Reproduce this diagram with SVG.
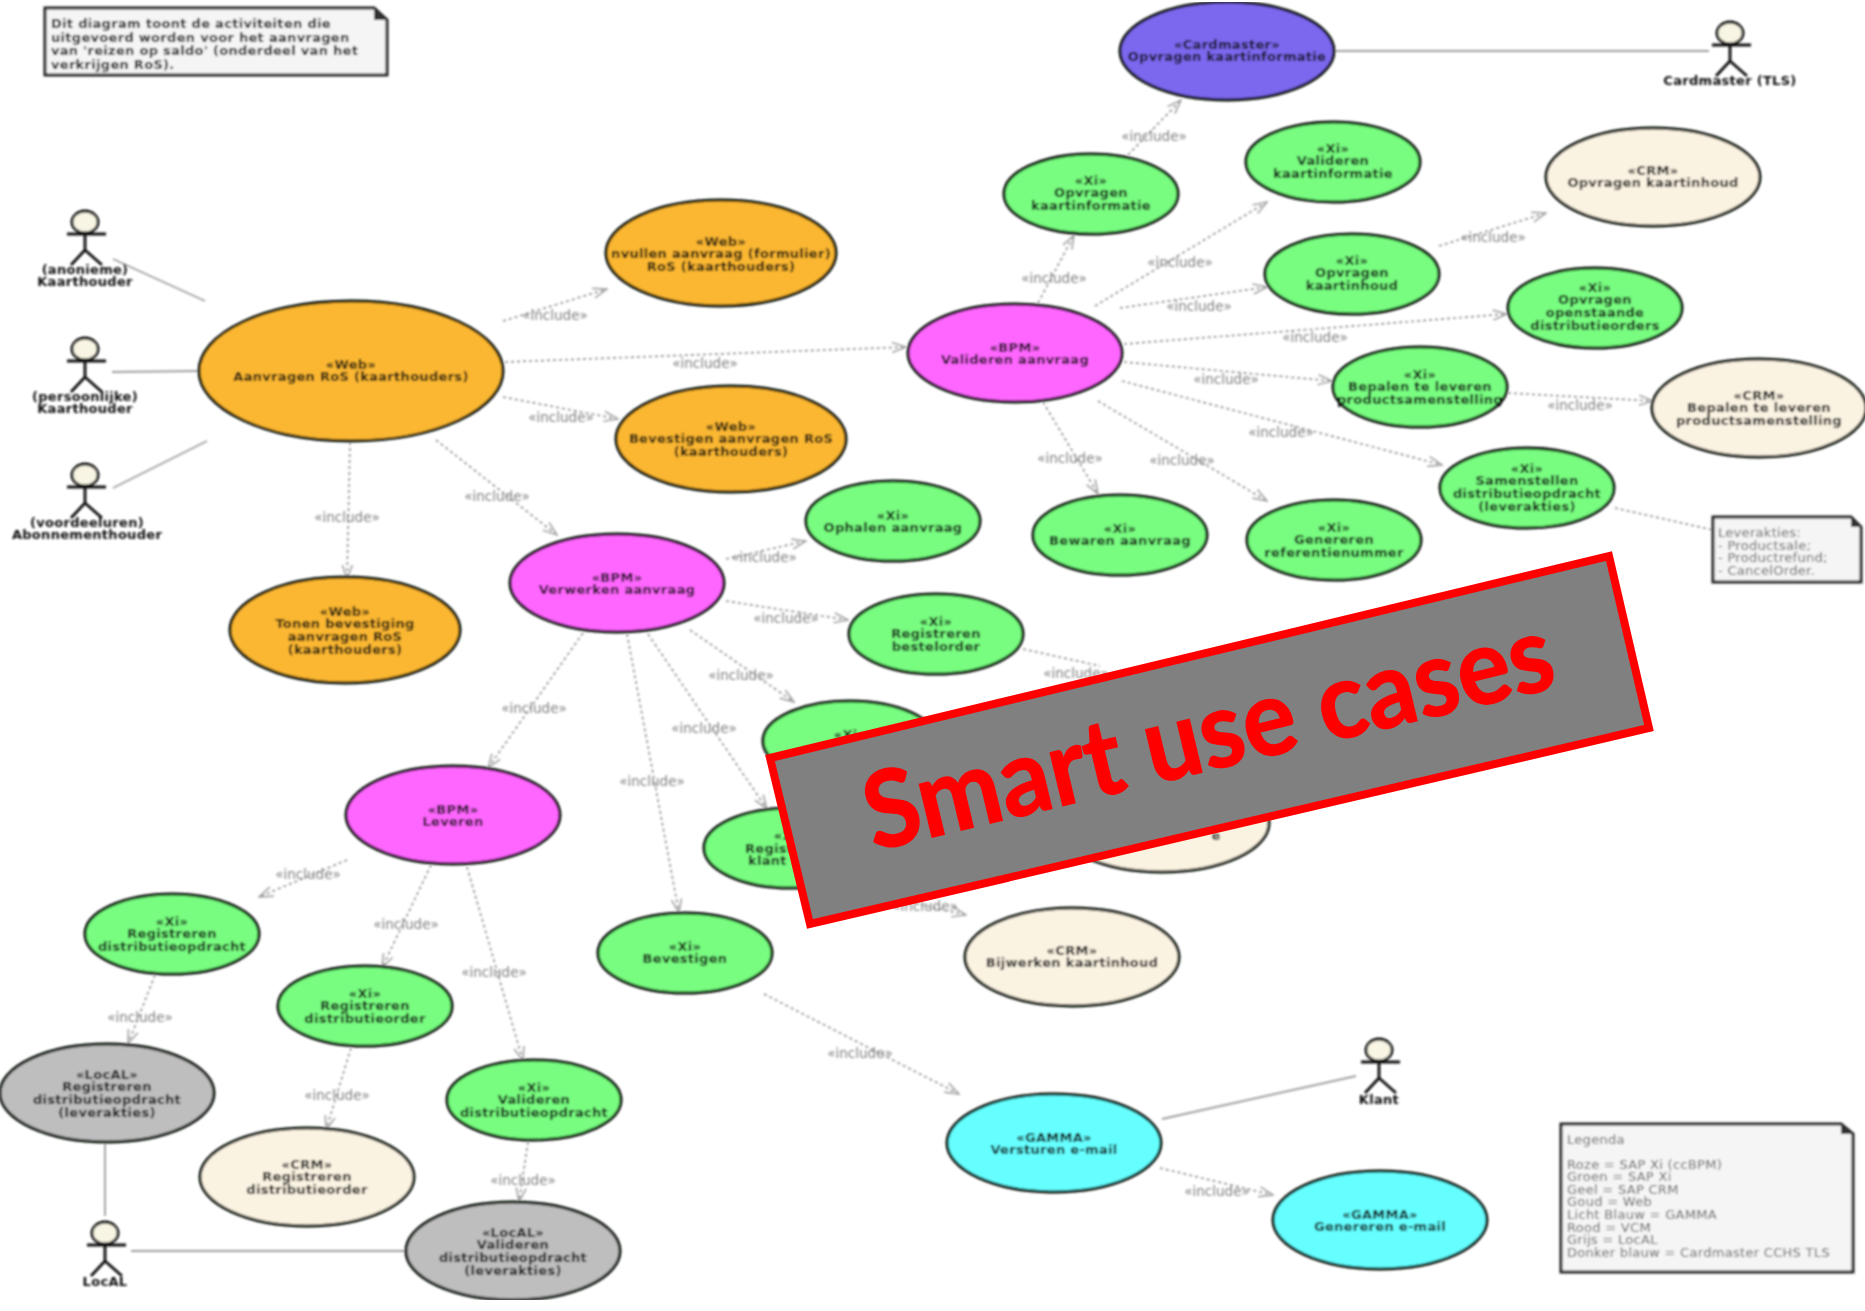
<svg xmlns="http://www.w3.org/2000/svg" width="1865" height="1311" viewBox="0 0 1865 1311">
<style>
.web{fill:#fbb731}.xi{fill:#78fd80}.bpm{fill:#ff66ff}.crm{fill:#fbf3e2}.gamma{fill:#66ffff}.local{fill:#bebebe}.card{fill:#7b68ee}
ellipse.u{stroke:#0c140c;stroke-width:3}
.t{font:bold 13px "DejaVu Sans",sans-serif;letter-spacing:.3px;fill:#111;text-anchor:middle;transform:translateY(-.5px)}
.n{font:bold 13px "DejaVu Sans",sans-serif;letter-spacing:.3px;fill:#111}
.r{font:13px "DejaVu Sans",sans-serif;letter-spacing:.3px;fill:#5a5a5a}
.i{font:13.5px "DejaVu Sans",sans-serif;fill:#808080;text-anchor:middle}
.d{fill:none;stroke:#969696;stroke-width:1.7;stroke-dasharray:3 3;marker-end:url(#open)}
.dn{fill:none;stroke:#969696;stroke-width:1.7;stroke-dasharray:3 3}
.s{fill:none;stroke:#a0a0a0;stroke-width:1.9}
.a{fill:none;stroke:#111;stroke-width:2.8}
.h{fill:#f8f5e4;stroke:#111;stroke-width:2.8}
.note{fill:#f5f5f5;stroke:#222;stroke-width:3}
</style>
<defs>
<marker id="open" viewBox="0 0 16 12" refX="15" refY="6" markerWidth="16" markerHeight="12" markerUnits="userSpaceOnUse" orient="auto"><path d="M1 1L15 6L1 11" fill="none" stroke="#a8a8a8" stroke-width="1.7"/></marker>
<filter id="soft" x="0" y="0" width="100%" height="100%"><feGaussianBlur stdDeviation="0.8"/></filter>
</defs>
<rect width="1865" height="1311" fill="#fff"/>
<g id="diagram" filter="url(#soft)">
<g id="connectors">
<path class="s" d="M113 259L205 301M112 372L198 371M113 488L207 441M1335 51L1709 51M1162 1119L1356 1076M131 1251L407 1251M105 1142L105 1216"/>
<path class="d" d="M503 321L607 289"/><path class="d" d="M505 362L906 347"/><path class="d" d="M503 397L618 419"/><path class="d" d="M350 442L347 579"/><path class="d" d="M436 440L557 535"/>
<path class="d" d="M1038 303L1074 235"/><path class="d" d="M1128 155L1181 100"/><path class="d" d="M1095 306L1267 202"/><path class="d" d="M1120 308L1267 287"/><path class="d" d="M1439 246L1546 213"/><path class="d" d="M1124 344L1507 314"/><path class="d" d="M1124 362L1332 381"/><path class="d" d="M1508 393L1653 401"/><path class="d" d="M1122 381L1442 465"/><path class="d" d="M1098 401L1267 501"/><path class="d" d="M1043 402L1098 494"/>
<path class="dn" d="M1615 508L1713 530"/>
<path class="d" d="M726 559L806 541"/><path class="d" d="M726 601L848 620"/><path class="dn" d="M1023 649L1100 666"/><path class="d" d="M690 630L794 702"/><path class="d" d="M648 634L767 809"/><path class="d" d="M627 634L679 913"/><path class="d" d="M583 633L488 768"/>
<path class="d" d="M892 898L966 915"/><path class="d" d="M347 860L259 897"/><path class="d" d="M431 865L382 968"/><path class="d" d="M467 867L523 1061"/><path class="d" d="M155 975L128 1044"/><path class="d" d="M351 1048L326 1130"/><path class="d" d="M528 1142L519 1202"/><path class="d" d="M764 994L959 1094"/><path class="d" d="M1160 1168L1273 1195"/>
<g id="connector-labels">
<text class="i" x="555" y="320">«include»</text><text class="i" x="705" y="368">«include»</text><text class="i" x="561" y="422">«include»</text><text class="i" x="347" y="522">«include»</text><text class="i" x="497" y="501">«include»</text>
<text class="i" x="1054" y="283">«include»</text><text class="i" x="1154" y="141">«include»</text><text class="i" x="1180" y="267">«include»</text><text class="i" x="1199" y="311">«include»</text><text class="i" x="1493" y="242">«include»</text><text class="i" x="1315" y="342">«include»</text><text class="i" x="1226" y="384">«include»</text><text class="i" x="1580" y="410">«include»</text><text class="i" x="1281" y="437">«include»</text><text class="i" x="1182" y="465">«include»</text><text class="i" x="1070" y="463">«include»</text>
<text class="i" x="764" y="562">«include»</text><text class="i" x="786" y="623">«include»</text><text class="i" x="1076" y="678">«include»</text><text class="i" x="741" y="680">«include»</text><text class="i" x="704" y="733">«include»</text><text class="i" x="652" y="786">«include»</text><text class="i" x="534" y="713">«include»</text><text class="i" x="925" y="911">«include»</text>
<text class="i" x="308" y="879">«include»</text><text class="i" x="406" y="929">«include»</text><text class="i" x="494" y="977">«include»</text><text class="i" x="140" y="1022">«include»</text><text class="i" x="337" y="1100">«include»</text><text class="i" x="523" y="1185">«include»</text><text class="i" x="860" y="1058">«include»</text><text class="i" x="1217" y="1196">«include»</text>
</g>
</g>

<g id="note-intro"><path class="note" d="M45 8H374L387 20V75H45Z"/><path d="M374 8L387 20H374Z" fill="#333"/><text class="n" y="28"><tspan x="51">Dit diagram toont de activiteiten die</tspan><tspan x="51" dy="13.7">uitgevoerd worden voor het aanvragen</tspan><tspan x="51" dy="13.7">van 'reizen op saldo' (onderdeel van het</tspan><tspan x="51" dy="13.7">verkrijgen RoS).</tspan></text></g>
<g id="note-leverakties"><path class="note" d="M1713 517H1851L1861 527V582H1713Z"/><path d="M1851 517L1861 527H1851Z" fill="#333"/><text class="r" y="537"><tspan x="1718">Leverakties:</tspan><tspan x="1718" dy="12.6">- Productsale;</tspan><tspan x="1718" dy="12.6">- Productrefund;</tspan><tspan x="1718" dy="12.6">- CancelOrder.</tspan></text></g>
<g id="note-legenda"><path class="note" d="M1561 1124H1841L1853 1134V1272H1561Z"/><path d="M1841 1124L1853 1134H1841Z" fill="#333"/><text class="r" y="1144"><tspan x="1567">Legenda</tspan><tspan x="1567" dy="24.6">Roze = SAP Xi (ccBPM)</tspan><tspan x="1567" dy="12.6">Groen = SAP Xi</tspan><tspan x="1567" dy="12.6">Geel = SAP CRM</tspan><tspan x="1567" dy="12.6">Goud = Web</tspan><tspan x="1567" dy="12.6">Licht Blauw = GAMMA</tspan><tspan x="1567" dy="12.6">Rood = VCM</tspan><tspan x="1567" dy="12.6">Grijs = LocAL</tspan><tspan x="1567" dy="12.6">Donker blauw = Cardmaster CCHS TLS</tspan></text></g>

<g id="actor-anoniem"><ellipse class="h" cx="85" cy="222" rx="13" ry="11"/><path class="a" d="M85 233V250M67 234H106M85 250L71 265M85 250L102 265"/><text class="t" y="274"><tspan x="85">(anonieme)</tspan><tspan x="85" dy="12.7">Kaarthouder</tspan></text></g>
<g id="actor-persoonlijk"><ellipse class="h" cx="85" cy="349" rx="13" ry="11"/><path class="a" d="M85 360V377M67 361H106M85 377L71 392M85 377L102 392"/><text class="t" y="401"><tspan x="85">(persoonlijke)</tspan><tspan x="85" dy="12.7">Kaarthouder</tspan></text></g>
<g id="actor-voordeeluren"><ellipse class="h" cx="85" cy="475" rx="13" ry="11"/><path class="a" d="M85 486V503M67 487H106M85 503L71 518M85 503L102 518"/><text class="t" y="527"><tspan x="87">(voordeeluren)</tspan><tspan x="87" dy="12.7">Abonnementhouder</tspan></text></g>
<g id="actor-cardmaster"><ellipse class="h" cx="1730" cy="33" rx="13" ry="11"/><path class="a" d="M1730 44V61M1712 45H1751M1730 61L1716 76M1730 61L1747 76"/><text class="t" x="1730" y="85">Cardmaster (TLS)</text></g>
<g id="actor-klant"><ellipse class="h" cx="1379" cy="1050" rx="13" ry="11"/><path class="a" d="M1379 1061V1078M1361 1062H1400M1379 1078L1365 1093M1379 1078L1396 1093"/><text class="t" x="1379" y="1104">Klant</text></g>
<g id="actor-local"><ellipse class="h" cx="105" cy="1233" rx="13" ry="11"/><path class="a" d="M105 1244V1261M87 1245H126M105 1261L91 1276M105 1261L122 1276"/><text class="t" x="105" y="1286">LocAL</text></g>

<g id="uc-cardmaster"><ellipse class="u card" cx="1227" cy="51" rx="107" ry="49"/><text class="t" y="49"><tspan x="1227">«Cardmaster»</tspan><tspan x="1227" dy="12.7">Opvragen kaartinformatie</tspan></text></g>
<g id="uc-opvragen-info"><ellipse class="u xi" cx="1091" cy="194" rx="87" ry="40"/><text class="t" y="185"><tspan x="1091">«Xi»</tspan><tspan x="1091" dy="12.7">Opvragen</tspan><tspan x="1091" dy="12.7">kaartinformatie</tspan></text></g>
<g id="uc-valideren-info"><ellipse class="u xi" cx="1333" cy="162" rx="87" ry="40"/><text class="t" y="153"><tspan x="1333">«Xi»</tspan><tspan x="1333" dy="12.7">Valideren</tspan><tspan x="1333" dy="12.7">kaartinformatie</tspan></text></g>
<g id="uc-crm-opvragen"><ellipse class="u crm" cx="1653" cy="177" rx="107" ry="49"/><text class="t" y="175"><tspan x="1653">«CRM»</tspan><tspan x="1653" dy="12.7">Opvragen kaartinhoud</tspan></text></g>
<g id="uc-opvragen-inhoud"><ellipse class="u xi" cx="1352" cy="274" rx="87" ry="40"/><text class="t" y="265"><tspan x="1352">«Xi»</tspan><tspan x="1352" dy="12.7">Opvragen</tspan><tspan x="1352" dy="12.7">kaartinhoud</tspan></text></g>
<g id="uc-openstaande"><ellipse class="u xi" cx="1595" cy="308" rx="87" ry="40"/><text class="t" y="292"><tspan x="1595">«Xi»</tspan><tspan x="1595" dy="12.7">Opvragen</tspan><tspan x="1595" dy="12.7">openstaande</tspan><tspan x="1595" dy="12.7">distributieorders</tspan></text></g>
<g id="uc-valideren"><ellipse class="u bpm" cx="1015" cy="353" rx="107" ry="49"/><text class="t" y="352"><tspan x="1015">«BPM»</tspan><tspan x="1015" dy="12.7">Valideren aanvraag</tspan></text></g>
<g id="uc-bepalen"><ellipse class="u xi" cx="1420" cy="387" rx="87" ry="40"/><text class="t" y="379"><tspan x="1420">«Xi»</tspan><tspan x="1420" dy="12.7">Bepalen te leveren</tspan><tspan x="1420" dy="12.7">productsamenstelling</tspan></text></g>
<g id="uc-crm-bepalen"><ellipse class="u crm" cx="1759" cy="408" rx="107" ry="49"/><text class="t" y="400"><tspan x="1759">«CRM»</tspan><tspan x="1759" dy="12.7">Bepalen te leveren</tspan><tspan x="1759" dy="12.7">productsamenstelling</tspan></text></g>
<g id="uc-samenstellen"><ellipse class="u xi" cx="1527" cy="488" rx="87" ry="40"/><text class="t" y="473"><tspan x="1527">«Xi»</tspan><tspan x="1527" dy="12.7">Samenstellen</tspan><tspan x="1527" dy="12.7">distributieopdracht</tspan><tspan x="1527" dy="12.7">(leverakties)</tspan></text></g>
<g id="uc-bewaren"><ellipse class="u xi" cx="1120" cy="535" rx="87" ry="40"/><text class="t" y="533"><tspan x="1120">«Xi»</tspan><tspan x="1120" dy="12.7">Bewaren aanvraag</tspan></text></g>
<g id="uc-genereren-ref"><ellipse class="u xi" cx="1334" cy="540" rx="87" ry="40"/><text class="t" y="532"><tspan x="1334">«Xi»</tspan><tspan x="1334" dy="12.7">Genereren</tspan><tspan x="1334" dy="12.7">referentienummer</tspan></text></g>
<g id="uc-invullen"><ellipse class="u web" cx="721" cy="253" rx="115" ry="53"/><text class="t" y="246"><tspan x="721">«Web»</tspan><tspan x="721" dy="12.7">nvullen aanvraag (formulier)</tspan><tspan x="721" dy="12.7">RoS (kaarthouders)</tspan></text></g>
<g id="uc-aanvragen"><ellipse class="u web" cx="351" cy="371" rx="152" ry="70"/><text class="t" y="369"><tspan x="351">«Web»</tspan><tspan x="351" dy="12.7">Aanvragen RoS (kaarthouders)</tspan></text></g>
<g id="uc-bevestigen-web"><ellipse class="u web" cx="731" cy="439" rx="115" ry="53"/><text class="t" y="431"><tspan x="731">«Web»</tspan><tspan x="731" dy="12.7">Bevestigen aanvragen RoS</tspan><tspan x="731" dy="12.7">(kaarthouders)</tspan></text></g>
<g id="uc-tonen"><ellipse class="u web" cx="345" cy="630" rx="115" ry="53"/><text class="t" y="616"><tspan x="345">«Web»</tspan><tspan x="345" dy="12.7">Tonen bevestiging</tspan><tspan x="345" dy="12.7">aanvragen RoS</tspan><tspan x="345" dy="12.7">(kaarthouders)</tspan></text></g>
<g id="uc-verwerken"><ellipse class="u bpm" cx="617" cy="583" rx="107" ry="49"/><text class="t" y="582"><tspan x="617">«BPM»</tspan><tspan x="617" dy="12.7">Verwerken aanvraag</tspan></text></g>
<g id="uc-ophalen"><ellipse class="u xi" cx="893" cy="521" rx="87" ry="40"/><text class="t" y="520"><tspan x="893">«Xi»</tspan><tspan x="893" dy="12.7">Ophalen aanvraag</tspan></text></g>
<g id="uc-bestelorder"><ellipse class="u xi" cx="936" cy="634" rx="87" ry="40"/><text class="t" y="626"><tspan x="936">«Xi»</tspan><tspan x="936" dy="12.7">Registreren</tspan><tspan x="936" dy="12.7">bestelorder</tspan></text></g>
<g id="uc-hidden-xi"><ellipse class="u xi" cx="850" cy="741" rx="87" ry="40"/><text class="t" x="850" y="739">«Xi»</text></g>
<g id="uc-registreren-klant"><ellipse class="u xi" cx="791" cy="848" rx="87" ry="40"/><text class="t" x="790" y="840">«Xi»</text><text class="t" style="text-anchor:start" y="853"><tspan x="745">Registreren</tspan><tspan x="748" dy="12.7">klant</tspan></text></g>
<g id="uc-hidden-crm"><ellipse class="u crm" cx="1162" cy="823" rx="107" ry="49"/><text class="t" x="1216" y="840">e</text></g>
<g id="uc-bijwerken"><ellipse class="u crm" cx="1072" cy="957" rx="107" ry="49"/><text class="t" y="955"><tspan x="1072">«CRM»</tspan><tspan x="1072" dy="12.7">Bijwerken kaartinhoud</tspan></text></g>
<g id="uc-bevestigen"><ellipse class="u xi" cx="685" cy="953" rx="87" ry="40"/><text class="t" y="951"><tspan x="685">«Xi»</tspan><tspan x="685" dy="12.7">Bevestigen</tspan></text></g>
<g id="uc-leveren"><ellipse class="u bpm" cx="453" cy="815" rx="107" ry="49"/><text class="t" y="814"><tspan x="453">«BPM»</tspan><tspan x="453" dy="12.7">Leveren</tspan></text></g>
<g id="uc-reg-opdracht"><ellipse class="u xi" cx="172" cy="934" rx="87" ry="40"/><text class="t" y="926"><tspan x="172">«Xi»</tspan><tspan x="172" dy="12.7">Registreren</tspan><tspan x="172" dy="12.7">distributieopdracht</tspan></text></g>
<g id="uc-reg-order"><ellipse class="u xi" cx="365" cy="1006" rx="87" ry="40"/><text class="t" y="998"><tspan x="365">«Xi»</tspan><tspan x="365" dy="12.7">Registreren</tspan><tspan x="365" dy="12.7">distributieorder</tspan></text></g>
<g id="uc-local-reg"><ellipse class="u local" cx="107" cy="1093" rx="107" ry="49"/><text class="t" y="1079"><tspan x="107">«LocAL»</tspan><tspan x="107" dy="12.7">Registreren</tspan><tspan x="107" dy="12.7">distributieopdracht</tspan><tspan x="107" dy="12.7">(leverakties)</tspan></text></g>
<g id="uc-crm-reg"><ellipse class="u crm" cx="307" cy="1177" rx="107" ry="49"/><text class="t" y="1169"><tspan x="307">«CRM»</tspan><tspan x="307" dy="12.7">Registreren</tspan><tspan x="307" dy="12.7">distributieorder</tspan></text></g>
<g id="uc-val-opdracht"><ellipse class="u xi" cx="534" cy="1100" rx="87" ry="40"/><text class="t" y="1092"><tspan x="534">«Xi»</tspan><tspan x="534" dy="12.7">Valideren</tspan><tspan x="534" dy="12.7">distributieopdracht</tspan></text></g>
<g id="uc-local-val"><ellipse class="u local" cx="513" cy="1251" rx="107" ry="49"/><text class="t" y="1237"><tspan x="513">«LocAL»</tspan><tspan x="513" dy="12.7">Valideren</tspan><tspan x="513" dy="12.7">distributieopdracht</tspan><tspan x="513" dy="12.7">(leverakties)</tspan></text></g>
<g id="uc-versturen"><ellipse class="u gamma" cx="1054" cy="1143" rx="107" ry="49"/><text class="t" y="1142"><tspan x="1054">«GAMMA»</tspan><tspan x="1054" dy="12.7">Versturen e-mail</tspan></text></g>
<g id="uc-genereren-mail"><ellipse class="u gamma" cx="1380" cy="1220" rx="107" ry="49"/><text class="t" y="1219"><tspan x="1380">«GAMMA»</tspan><tspan x="1380" dy="12.7">Genereren e-mail</tspan></text></g>
</g>
<g id="banner">
<polygon points="770,758 1609,556 1649,728 810,924" fill="#808080" stroke="#ff0000" stroke-width="8" stroke-linejoin="miter"/>
<text transform="translate(874 851) rotate(-13.5)" textLength="705" lengthAdjust="spacingAndGlyphs" font-family="Lato,'Open Sans',sans-serif" font-weight="700" font-size="106" fill="#ff0000" stroke="#ff0000" stroke-width="1.5">Smart use cases</text>
</g>
</svg>
